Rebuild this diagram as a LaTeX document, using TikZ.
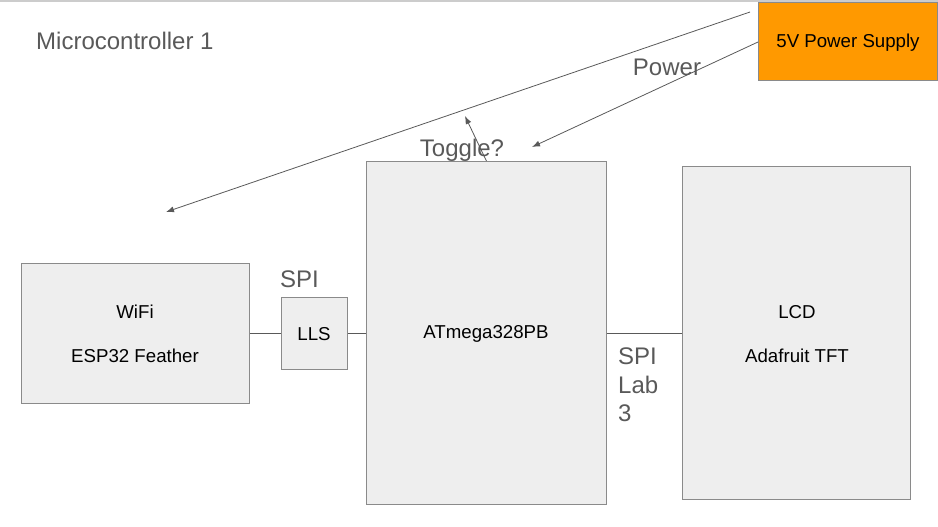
\documentclass[tikz,border=0pt]{standalone}
\usepackage{fontspec}
\setmainfont{Liberation Sans}
\usetikzlibrary{arrows.meta}
\definecolor{boxfill}{HTML}{EEEEEE}
\definecolor{boxline}{HTML}{8A8A8A}
\definecolor{wire}{HTML}{595959}
\definecolor{labelgray}{HTML}{595959}
\definecolor{psuorange}{HTML}{FF9900}
\begin{document}
\begin{tikzpicture}[x=1pt,y=-1pt,
  blk/.style={draw=boxline,line width=0.9pt,fill=boxfill,inner sep=0pt,anchor=north west},
  intext/.style={font=\fontsize{18.67}{22}\selectfont,text=black,inner sep=0pt},
  lbl/.style={font=\fontsize{24}{28}\selectfont,text=labelgray,inner sep=0pt},
  wireline/.style={draw=wire,line width=0.8pt},
  arr/.style={wireline,-{Latex[length=8pt,width=6pt]}}]
\useasboundingbox (0,0) rectangle (938,527);
\draw[line width=1.5pt,color=black!20] (0,1) -- (938,1);
% boxes
\node[blk,fill=psuorange,minimum width=179pt,minimum height=78pt] (psu) at (758,2) {};
\node[blk,minimum width=240pt,minimum height=343pt] (atm) at (366,161) {};
\node[blk,minimum width=228pt,minimum height=333pt] (lcd) at (682,166) {};
\node[blk,minimum width=228pt,minimum height=140pt] (wifi) at (21,263) {};
\node[blk,minimum width=66pt,minimum height=72pt] (lls) at (281,297) {};
% inner texts
\node[intext] (psut) at (848,43) {5V Power Supply};
\node[intext] (atmt) at (486,334) {ATmega328PB};
\node[intext] (lcdt1) at (797,312) {LCD};
\node[intext] (lcdt2) at (797,356) {Adafruit TFT};
\node[intext] (wifit1) at (135,312) {WiFi};
\node[intext] (wifit2) at (135,356) {ESP32 Feather};
\node[intext] (llst) at (314,334) {LLS};
% labels
\node[lbl,anchor=west] (mc) at (36,41) {Microcontroller 1};
\node[lbl] (power) at (667,67) {Power};
\node[lbl] (toggle) at (462,150) {Toggle?};
\node[lbl,anchor=west] (spi1) at (280,279) {SPI};
\node[lbl,anchor=north west,align=left,font=\fontsize{24}{28.5}\selectfont] (spi2) at (618,348) {SPI\\Lab\\3};
% connectors
\draw[wireline] (wifi.east |- 0,333) -- (lls.west |- 0,333);
\draw[wireline] (lls.east |- 0,333) -- (atm.west |- 0,333);
\draw[wireline] (atm.east |- 0,333) -- (lcd.west |- 0,333);
\coordinate (s1) at (750,12);
\coordinate (e1) at (166,212);
\coordinate (e2) at (532,147);
\coordinate (e3) at (465,116);
\draw[arr] (s1) -- (e1);
\draw[arr] (psu.west |- 0,42) -- (e2);
\draw[arr] (atm.north) -- (e3);
\end{tikzpicture}
\end{document}
